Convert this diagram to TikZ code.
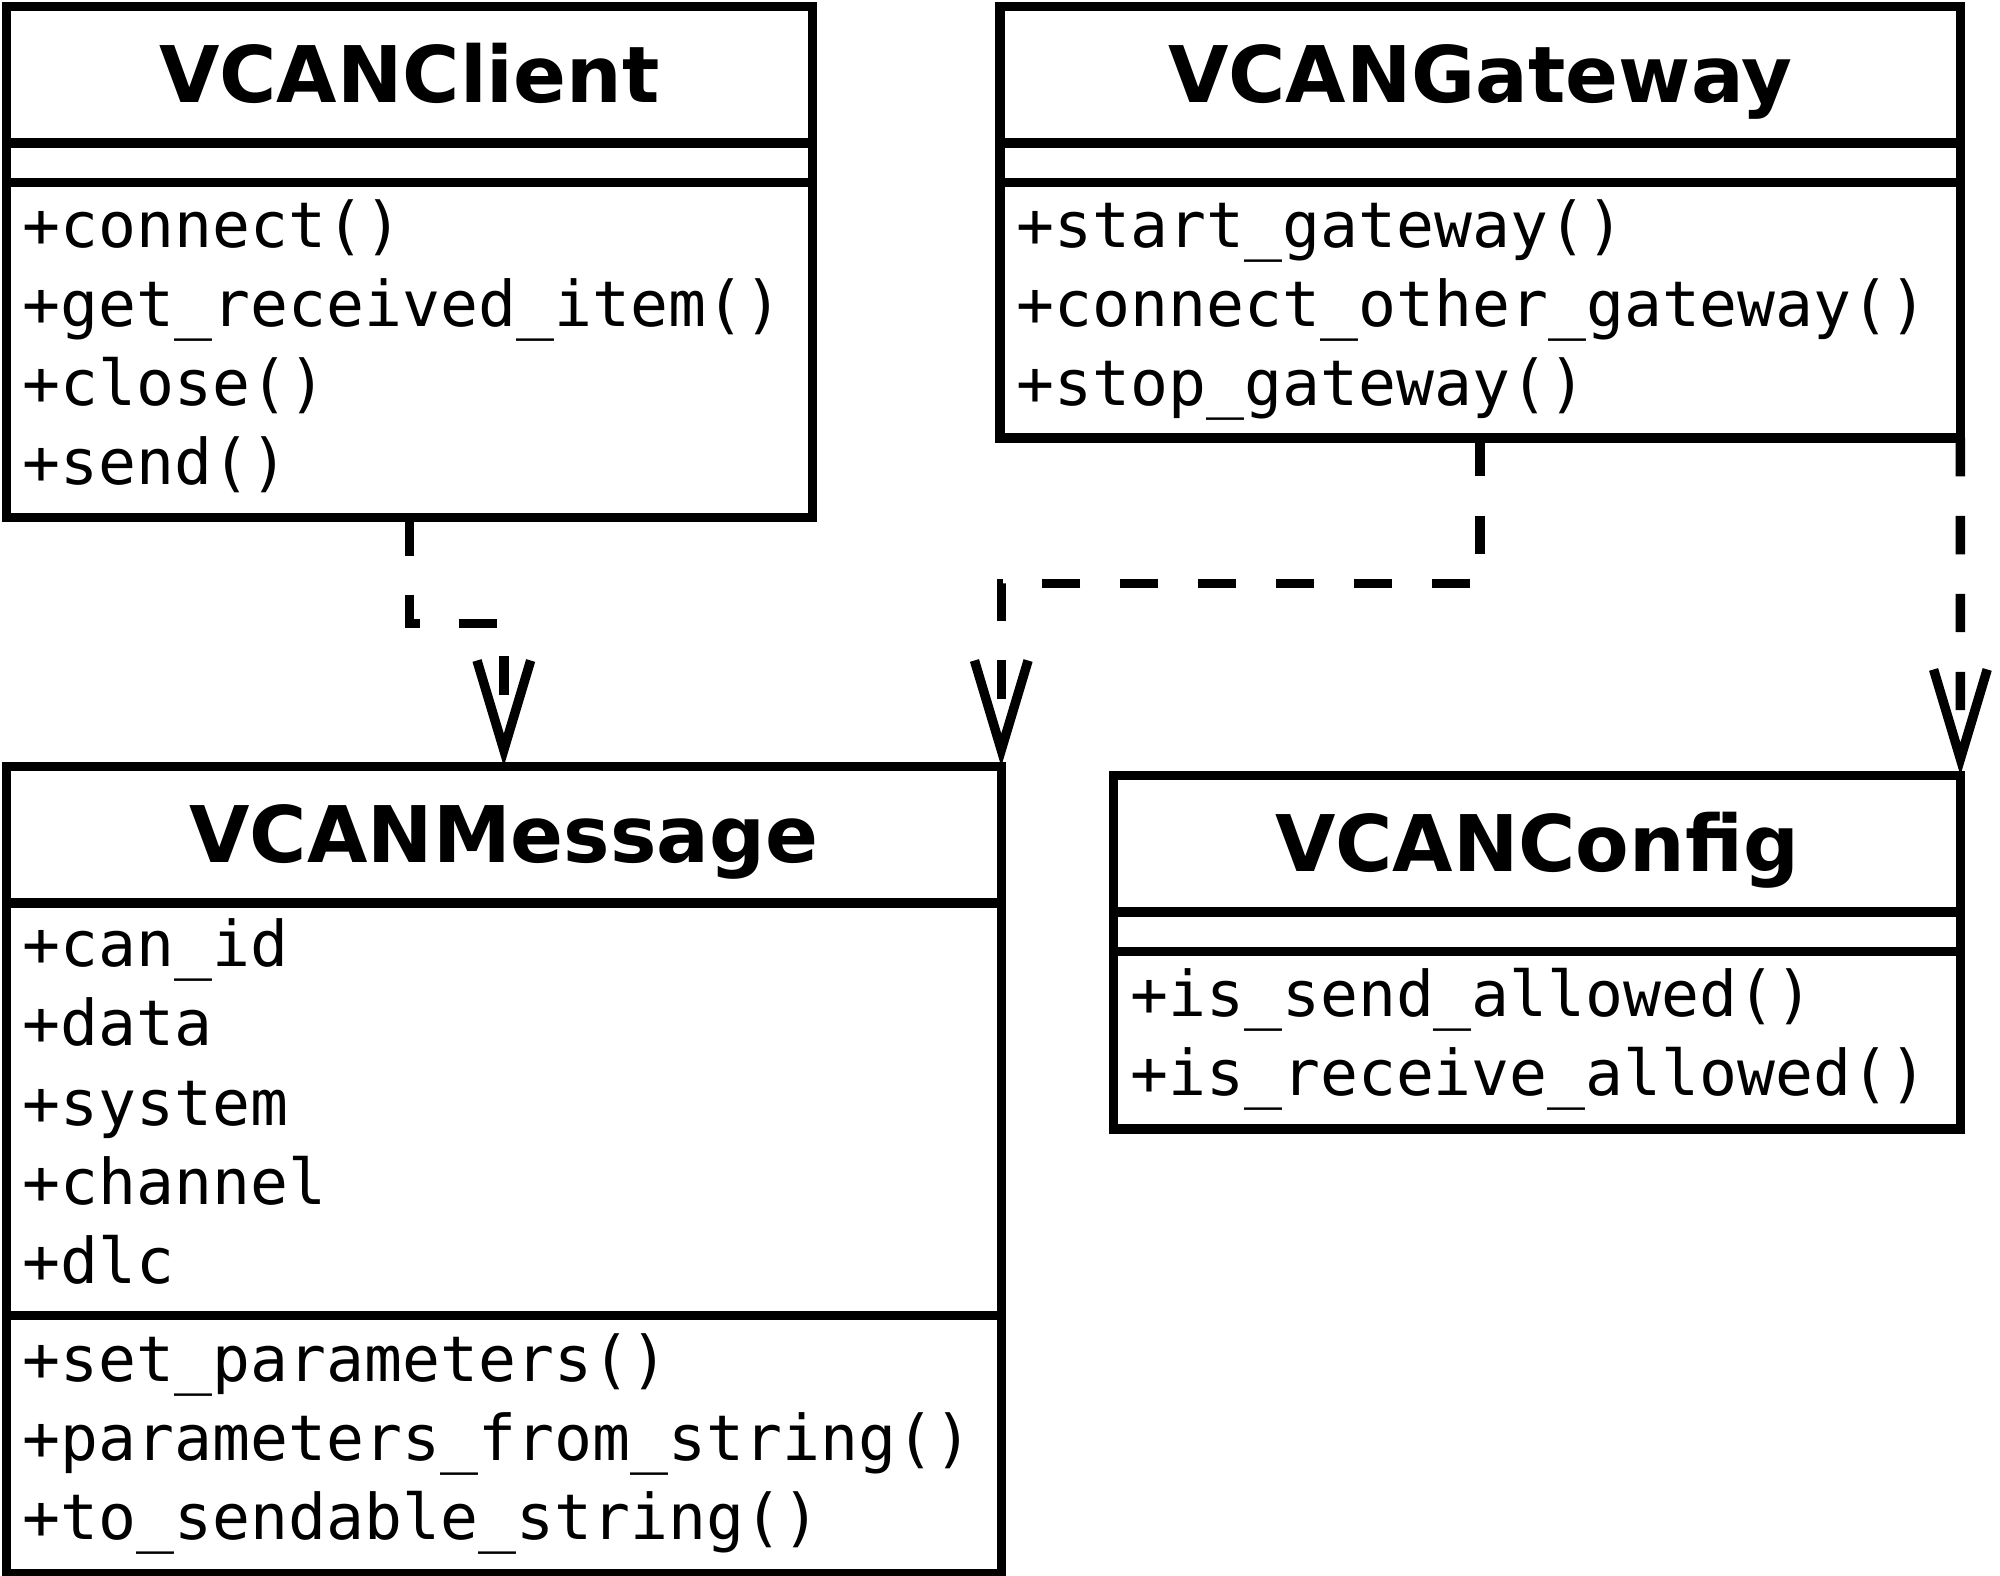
\documentclass[tikz,border=0pt]{standalone}
\usepackage{fontspec}
\setmainfont{DejaVu Sans}
\setmonofont{DejaVu Sans Mono}
\usepackage{tikz}
\usetikzlibrary{positioning}
\usetikzlibrary{arrows.meta}
\tikzset{
  classname/.style={draw, line width=2.1pt, outer sep=0pt, inner sep=0pt,
    minimum height=1.07cm, text height=0.45cm, text depth=0.02cm,
    font=\fontsize{17.4}{20}\selectfont\bfseries},
  noattrs/.style={draw, line width=2.1pt, outer sep=0pt, inner sep=0pt,
    minimum height=0.31cm},
  members/.style={draw, line width=2.1pt, outer sep=0pt, inner xsep=0.13cm,
    inner ysep=0pt, align=left, font=\fontsize{14.05}{17.64}\selectfont\ttfamily,
    execute at begin node=\strut, execute at end node=\strut},
  depline/.style={line width=2.1pt, dash pattern=on 0.3cm off 0.31cm,
    -{Straight Barb[length=0.7cm, width=0.42cm]}}
}

\begin{document}
\begin{tikzpicture}
  \useasboundingbox (0,0) rectangle (15.66,-12.34);

  % VCANClient
  \node[classname, minimum width=6.31cm, anchor=north west] (client) at (0.05,-0.05) {VCANClient};
  \node[noattrs, minimum width=6.31cm, below=0pt of client] (client-a) {};
  \node[members, text width=6.05cm, minimum height=2.62cm, below=0pt of client-a] (client-m)
    {+connect()\\+get\_received\_item()\\+close()\\+send()};

  % VCANGateway
  \node[classname, minimum width=7.52cm, anchor=north west] (gateway) at (7.83,-0.05) {VCANGateway};
  \node[noattrs, minimum width=7.52cm, below=0pt of gateway] (gateway-a) {};
  \node[members, text width=7.26cm, minimum height=2.0cm, below=0pt of gateway-a] (gateway-m)
    {+start\_gateway()\\+connect\_other\_gateway()\\+stop\_gateway()};

  % VCANMessage
  \node[classname, minimum width=7.79cm, anchor=north west] (message) at (0.05,-6.0) {VCANMessage};
  \node[members, text width=7.53cm, minimum height=3.23cm, below=0pt of message] (message-a)
    {+can\_id\\+data\\+system\\+channel\\+dlc};
  \node[members, text width=7.53cm, minimum height=2.02cm, below=0pt of message-a] (message-m)
    {+set\_parameters()\\+parameters\_from\_string()\\+to\_sendable\_string()};

  % VCANConfig
  \node[classname, minimum width=6.63cm, anchor=north west] (config) at (8.72,-6.07) {VCANConfig};
  \node[noattrs, minimum width=6.63cm, below=0pt of config] (config-a) {};
  \node[members, text width=6.37cm, minimum height=1.39cm, below=0pt of config-a] (config-m)
    {+is\_send\_allowed()\\+is\_receive\_allowed()};

  % client to message
  \draw[depline] (client-m.south) -- ++(0,-0.83) -| (message.north);
  % gateway to message
  \draw[depline] (gateway-m.south) -- ++(0,-1.14) -| (message.north east);
  % gateway to config
  \draw[depline] (gateway-m.south east) -- (config.north east);
\end{tikzpicture}
\end{document}
